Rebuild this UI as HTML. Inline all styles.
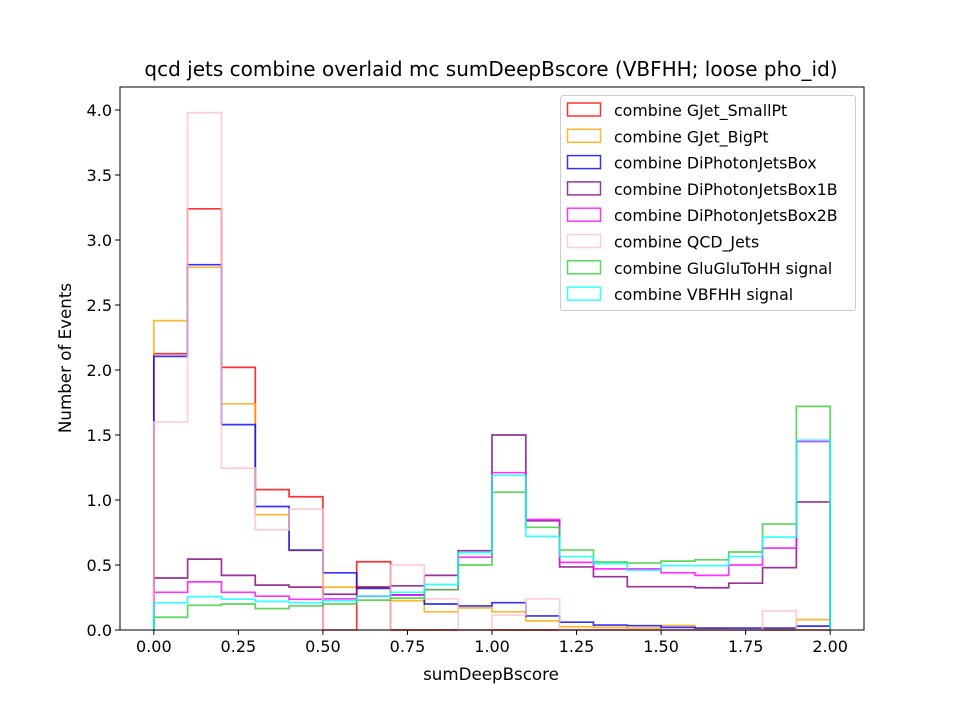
<!DOCTYPE html>
<html><head><meta charset="utf-8"><style>
body{margin:0;background:#fff}
svg text{font-family:"DejaVu Sans","Liberation Sans",sans-serif;fill:#000}
</style></head><body>
<svg id="chart" width="960" height="720" xmlns="http://www.w3.org/2000/svg">
<rect width="960" height="720" fill="#fff"/>
<text x="491" y="76" font-size="20" text-anchor="middle">qcd jets combine overlaid mc sumDeepBscore (VBFHH; loose pho_id)</text>
<g id="marks"></g>
<g id="axes"></g>
<text x="491" y="680" font-size="16.7" text-anchor="middle">sumDeepBscore</text>
<text transform="translate(71,358) rotate(-90)" font-size="16.7" text-anchor="middle">Number of Events</text>
<g id="legend"></g>
</svg>
<script>
const binEdges=[0,0.1,0.2,0.3,0.4,0.5,0.6,0.7,0.8,0.9,1.0,1.1,1.2,1.3,1.4,1.5,1.6,1.7,1.8,1.9,2.0];
const seriesNames=["combine GJet_SmallPt","combine GJet_BigPt","combine DiPhotonJetsBox","combine DiPhotonJetsBox1B","combine DiPhotonJetsBox2B","combine QCD_Jets","combine GluGluToHH signal","combine VBFHH signal"];
const gjetSmall=[2.125,3.24,2.02,1.08,1.025,0,0.525,0,0,0,0,0,0,0,0,0,0,0,0,0];
const gjetBig=[2.38,2.79,1.74,0.887,0.61,0.33,0.33,0.225,0.14,0.17,0.14,0.07,0.025,0.02,0.015,0.035,0.01,0.005,0.005,0.08];
const diphoBox=[2.105,2.81,1.58,0.95,0.615,0.44,0.32,0.27,0.2,0.185,0.21,0.108,0.06,0.038,0.033,0.02,0.015,0.015,0.015,0.03];
const diphoBox1B=[0.40,0.545,0.42,0.345,0.33,0.275,0.33,0.34,0.42,0.61,1.50,0.84,0.485,0.41,0.333,0.333,0.325,0.36,0.48,0.985];
const diphoBox2B=[0.29,0.37,0.29,0.26,0.236,0.24,0.26,0.27,0.31,0.56,1.21,0.85,0.52,0.47,0.47,0.44,0.42,0.50,0.63,1.45];
const qcdJets=[1.60,3.98,1.245,0.77,0.93,0,0,0.5,0.24,0,0.115,0.24,0,0,0,0,0,0,0.148,0];
const ggHH=[0.098,0.19,0.2,0.165,0.185,0.2,0.23,0.245,0.31,0.5,1.06,0.79,0.615,0.523,0.515,0.53,0.54,0.6,0.815,1.72];
const vbfHH=[0.21,0.257,0.237,0.22,0.21,0.225,0.26,0.29,0.35,0.595,1.19,0.72,0.565,0.51,0.46,0.495,0.495,0.565,0.715,1.46];
const xTicks=[0,0.25,0.5,0.75,1.0,1.25,1.5,1.75,2.0];
const xTickLabels=["0.00","0.25","0.50","0.75","1.00","1.25","1.50","1.75","2.00"];
const yTicks=[0,0.5,1,1.5,2,2.5,3,3.5,4];
const yTickLabels=["0.0","0.5","1.0","1.5","2.0","2.5","3.0","3.5","4.0"];
const allSeries=[gjetSmall,gjetBig,diphoBox,diphoBox1B,diphoBox2B,qcdJets,ggHH,vbfHH];
const colors=["#ff0000","#ffa500","#0000ff","#800080","#ff00ff","#ffc0cb","#32cd32","#00ffff"];
const L=120,R=864,T=87,B=630;
const X=v=>L+(v+0.1)/2.2*(R-L);
const Y=v=>B-v*130;
const NS="http://www.w3.org/2000/svg";
const mk=(t,a)=>{const e=document.createElementNS(NS,t);for(const k in a)e.setAttribute(k,a[k]);return e;};
const marks=document.getElementById('marks');
allSeries.forEach((s,i)=>{
  let d="M"+X(binEdges[0])+","+Y(0);
  s.forEach((v,j)=>{d+=" L"+X(binEdges[j])+","+Y(v)+" L"+X(binEdges[j+1])+","+Y(v);});
  d+=" L"+X(binEdges[binEdges.length-1])+","+Y(0);
  const p=mk('path',{d:d,fill:'none',stroke:colors[i],'stroke-width':1.7,'stroke-opacity':0.8});
  
  
  marks.appendChild(p);
});
const axes=document.getElementById('axes');
const frame=mk('rect',{x:L,y:T,width:R-L,height:B-T,fill:'none',stroke:'#000','stroke-width':1});


axes.appendChild(frame);
xTicks.forEach((v,i)=>{
  const g=mk('g',{});
  
  
  g.appendChild(mk('line',{x1:X(v),x2:X(v),y1:B,y2:B+4.9,stroke:'#000'}));
  const t=mk('text',{x:X(v),y:B+22,'font-size':16,'text-anchor':'middle'});t.textContent=xTickLabels[i];g.appendChild(t);
  axes.appendChild(g);
});
yTicks.forEach((v,i)=>{
  const g=mk('g',{});
  
  
  g.appendChild(mk('line',{x1:L-4.9,x2:L,y1:Y(v),y2:Y(v),stroke:'#000'}));
  const t=mk('text',{x:L-8,y:Y(v)+6,'font-size':16,'text-anchor':'end'});t.textContent=yTickLabels[i];g.appendChild(t);
  axes.appendChild(g);
});
const leg=document.getElementById('legend');
const box=mk('rect',{x:560.5,y:95.5,width:295,height:215,fill:'#fff','fill-opacity':0.8,stroke:'#ccc',rx:3});


leg.appendChild(box);
seriesNames.forEach((n,i)=>{
  const g=mk('g',{});
  
  
  const y=103+i*26.3;
  g.appendChild(mk('rect',{x:567.5,y:y,width:33,height:13,fill:'none',stroke:colors[i],'stroke-width':1.5,'stroke-opacity':0.8}));
  const t=mk('text',{x:614,y:y+13,'font-size':15.8});t.textContent=n;g.appendChild(t);
  leg.appendChild(g);
});
</script>
</body></html>
